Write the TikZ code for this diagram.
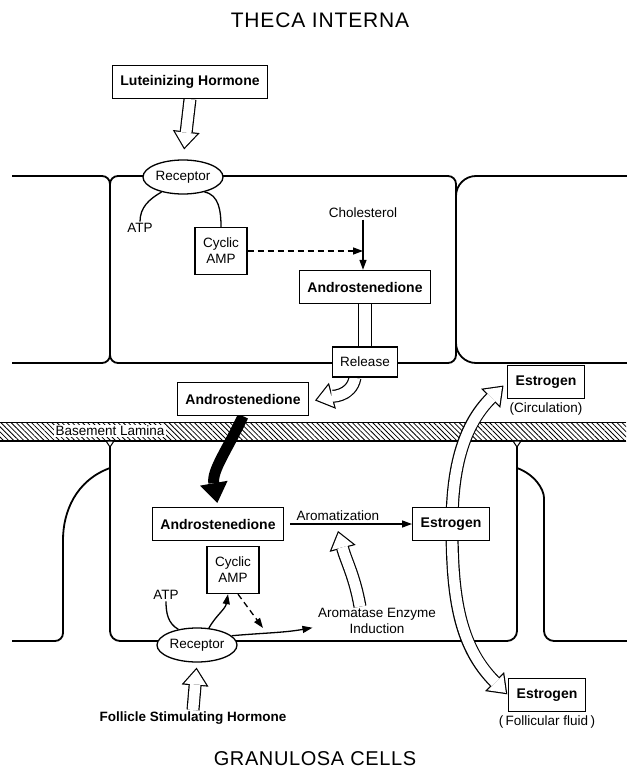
\documentclass[tikz,border=0pt]{standalone}
\usepackage{fontspec}
\setmainfont{Liberation Sans}
\usetikzlibrary{arrows.meta,positioning,shapes.geometric,patterns.meta}
\pgfdeclarelayer{back}
\pgfdeclarelayer{mid}
\pgfsetlayers{back,mid,main}

\begin{document}
\begin{tikzpicture}[x=1pt,y=-1pt,
    membrane/.style={line width=1.8pt,line join=round},
    txt/.style={font=\fontsize{13.5}{16}\selectfont,inner sep=1.5pt},
    title/.style={font=\fontsize{21}{24}\selectfont\addfontfeatures{LetterSpace=4}},
    box/.style={draw,line width=1.3pt,fill=white,font=\bfseries\fontsize{14}{16}\selectfont,
      minimum height=33pt,inner xsep=8pt},
    campbox/.style={draw,line width=1.3pt,fill=white,align=center,font=\fontsize{13.5}{16}\selectfont,
      minimum width=52pt,minimum height=47pt,inner sep=2pt},
    receptor/.style={ellipse,draw,line width=1.3pt,fill=white,minimum width=80pt,minimum height=34pt,
      inner sep=0pt,font=\fontsize{13.5}{16}\selectfont},
    conn/.style={line width=1.3pt,-{Triangle[length=10pt,width=7pt]}},
    hollow/.style={line width=13pt,shorten >=#1,-{Triangle[length=18pt,width=27pt,line width=0pt]},
      postaction={draw=white,line width=10.6pt,shorten >=#1+2pt,
        -{Triangle[length=14.8pt,width=22.2pt,line width=0pt]}}},
    hollow/.default=0pt,
    hollowboth/.style 2 args={line width=13pt,shorten <=#1,shorten >=#2,
      {Triangle[length=18pt,width=27pt,line width=0pt]}-{Triangle[length=18pt,width=27pt,line width=0pt]},
      postaction={draw=white,line width=10.6pt,shorten <=#1+2pt,shorten >=#2+2pt,
        {Triangle[length=14.8pt,width=22.2pt,line width=0pt]}-{Triangle[length=14.8pt,width=22.2pt,line width=0pt]}}},
    shaft/.style={line width=14pt,postaction={draw=white,line width=11.4pt}},
    blackarrow/.style={line width=11pt,-{Triangle[length=20pt,width=28pt,line width=0pt]}}
  ]
  \useasboundingbox (0,0) rectangle (626,773);

  \node[title] (theca) at (320,20) {THECA INTERNA};
  \node[box] (lh) at (190,82) {Luteinizing Hormone};
  \node[receptor] (rec1) at (183,177) {Receptor};
  \node[txt] (atp1) at (140,228) {ATP};
  \node[campbox] (camp1) at (221,251) {Cyclic\\AMP};
  \node[txt] (chol) at (363,213) {Cholesterol};
  \node[box] (andro1) at (365,287) {Androstenedione};
  \node[box,font=\fontsize{13.5}{16}\selectfont,minimum height=30pt] (release) at (365,362) {Release};
  \node[box] (andro2) at (243,399) {Androstenedione};
  \node[box] (estcirc) at (546,382) {Estrogen};
  \node[txt,below=2pt of estcirc] (circ) {(Circulation)};
  \node[txt,fill=white] (lamina) at (110,431) {Basement Lamina};
  \node[box] (andro3) at (218,524) {Androstenedione};
  \node[box] (estmid) at (451,524) {Estrogen};
  \node[campbox] (camp2) at (233,570) {Cyclic\\AMP};
  \node[txt] (atp2) at (166,595) {ATP};
  \node[txt,align=center] (arom) at (377,621) {Aromatase Enzyme\\Induction};
  \node[receptor] (rec2) at (197,645) {Receptor};
  \node[txt,font=\bfseries\fontsize{13.5}{16}\selectfont] (fsh) at (193,718) {Follicle Stimulating Hormone};
  \node[box] (estfol) at (547,695) {Estrogen};
  \node[txt,below=2pt of estfol] (fol) {(\,Follicular fluid\,)};
  \node[title,font=\fontsize{20}{24}\selectfont\addfontfeatures{LetterSpace=3}] (granulosa) at (315,759) {GRANULOSA CELLS};
  \coordinate (aromtip) at (338,531);
  \coordinate (dashend) at (263,628);

  \begin{pgfonlayer}{back}
    \fill[white] (0,0) rectangle (626,773);
    \draw[membrane,rounded corners=8pt] (12,176) -- (110,176) -- (110,363) -- (12,363);
    \draw[membrane,rounded corners=8pt] (110,176) rectangle (456,363);
    \draw[membrane,rounded corners=20pt] (640,176) -- (456,176) -- (456,363) -- (640,363);
    \fill[pattern={Lines[angle=-45,distance=3.6pt,line width=0.8pt]}] (0,422) rectangle (626,441);
    \draw[line width=0.6pt] (0,422) -- (626,422);
    \draw[line width=2pt] (0,441) -- (626,441);
    \draw[membrane,rounded corners=10pt] (110,441) -- (110,641) -- (517,641) -- (517,441);
    \draw[membrane,rounded corners=8pt] (110,468) to[out=200,in=90] (63,548) -- (63,641) -- (12,641);
    \draw[membrane,rounded corners=10pt] (517,468) to[out=-20,in=90] (544,508) -- (544,641) -- (640,641);
    \draw[line width=1pt,fill=white] (106,441) -- (114,441) -- (110,447) -- cycle;
    \draw[line width=1pt,fill=white] (513,441) -- (521,441) -- (517,447) -- cycle;
  \end{pgfonlayer}

  \begin{pgfonlayer}{mid}
    \draw[hollow=10pt] (lh.south) -- (rec1.north);
    \draw[shaft] (andro1.south) -- (release.north);
    \draw[hollow=6pt] ([xshift=-10pt]release.south) to[out=-100,in=15] ([yshift=-3pt]andro2.east);
    \draw[blackarrow,shorten >=4pt] (andro2.south) to[out=-115,in=100] (andro3.north);
    \draw[hollowboth={5pt}{1pt}] (estcirc.west) to[out=225,in=90] (452,525) to[out=-90,in=135] (estfol.west);
    \draw[hollow] ([xshift=-17pt]arom.north) to[out=100,in=-75] (aromtip);
    \draw[hollow=5pt] (fsh.north) -- (rec2.south);
  \end{pgfonlayer}

  \draw[line width=1.3pt] (rec1.-145) to[out=-150,in=90] (atp1.north);
  \draw[line width=1.3pt] (rec1.-35) to[out=-10,in=90] (camp1.north);
  \draw[conn,dashed,dash pattern=on 6pt off 4pt] (camp1.east) -- (camp1.east -| chol.south);
  \draw[conn] (chol.south) -- (chol.south |- andro1.north);
  \draw[conn,shorten <=6pt] (andro3.east) -- node[txt,above=1pt,pos=0.42] (aromz) {Aromatization} (estmid.west);
  \draw[line width=1.3pt] (atp2.south) to[out=-90,in=150] (rec2.140);
  \draw[conn] (rec2.55) to[out=60,in=-100] ([xshift=-5pt]camp2.south);
  \draw[conn,dashed,dash pattern=on 6pt off 4pt] ([xshift=5pt]camp2.south) -- (dashend);
  \draw[conn,shorten >=4pt] (rec2.15) to[out=5,in=190] ([yshift=-6pt]arom.west);
\end{tikzpicture}
\end{document}
